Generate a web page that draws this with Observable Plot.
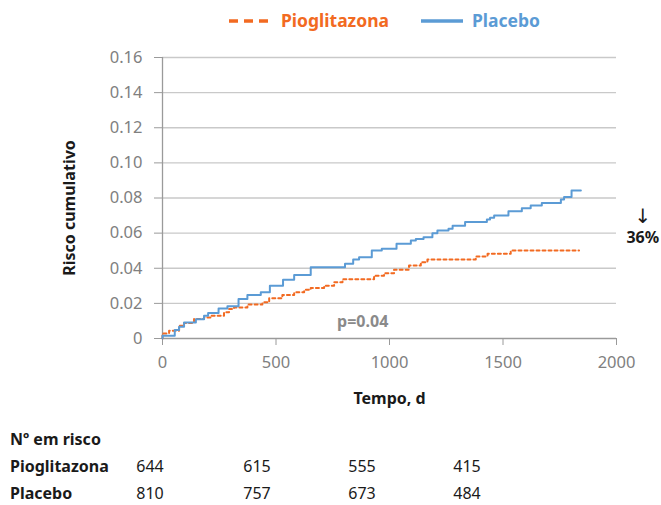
<!DOCTYPE html>
<html>
<head>
<meta charset="utf-8">
<script src="https://cdn.jsdelivr.net/npm/d3@7"></script>
<script src="https://cdn.jsdelivr.net/npm/@observablehq/plot@0.6"></script>
<style>
  body { margin: 0; background: #fff; font-family: "Noto Sans", sans-serif; }
  #wrap { position: relative; width: 661px; height: 505px; overflow: hidden; }
  #chart { position: absolute; left: 0; top: 0; }
  .leg { position: absolute; top: 7px; font-size: 17.5px; font-weight: bold; line-height: 26px; }
  .tbl { position: absolute; font-size: 16px; line-height: 20px; color: #1a1a1a; }
  .b { font-weight: bold; }
  .num { position: absolute; transform: translateX(-50%); }
</style>
</head>
<body>
<div id="wrap">
  <div id="chart"></div>
  <div id="legend"></div>
  <div id="table"></div>
</div>
<script>
// ---- data ----
const seriesNames = ["Pioglitazona", "Placebo"];
const seriesColors = ["#f26a21", "#5b9bd5"];

const placeboDays = [0, 0, 54, 73, 95, 147, 183, 201, 247, 286, 335, 374, 433, 473, 531, 580, 653, 804, 840, 866, 922, 966, 1031, 1094, 1116, 1150, 1189, 1211, 1260, 1278, 1333, 1429, 1443, 1461, 1524, 1583, 1622, 1671, 1755, 1769, 1802, 1843];
const placeboRisk = [0, 0.0015, 0.0048, 0.0067, 0.0091, 0.0109, 0.013, 0.0145, 0.0171, 0.0183, 0.0225, 0.0248, 0.0263, 0.0301, 0.0334, 0.0362, 0.0406, 0.0425, 0.045, 0.0463, 0.0501, 0.0511, 0.054, 0.0558, 0.0566, 0.0577, 0.06, 0.0615, 0.0625, 0.0642, 0.0663, 0.0677, 0.0688, 0.0701, 0.0724, 0.0741, 0.0758, 0.0771, 0.0791, 0.0806, 0.0842, 0.0842];

const pioDays = [0, 0, 29, 73, 95, 139, 183, 213, 271, 293, 315, 374, 440, 470, 528, 580, 624, 653, 712, 756, 793, 932, 976, 1020, 1086, 1138, 1167, 1380, 1432, 1534, 1835];
const pioRisk = [0, 0.0029, 0.0044, 0.0072, 0.0088, 0.0111, 0.012, 0.013, 0.0149, 0.0168, 0.0177, 0.0193, 0.0206, 0.0229, 0.0248, 0.0263, 0.0277, 0.0288, 0.03, 0.032, 0.0337, 0.0358, 0.0371, 0.0392, 0.0415, 0.0434, 0.045, 0.0467, 0.0482, 0.0501, 0.0501];

const yTicks = [0, 0.02, 0.04, 0.06, 0.08, 0.10, 0.12, 0.14, 0.16];
const xTicks = [0, 500, 1000, 1500, 2000];

const riskTitle = "Nº em risco";
const riskPio = [644, 615, 555, 415];
const riskPlacebo = [810, 757, 673, 484];

const pText = "p=0.04";
const reductionText = "36%";

// ---- build ----
const placebo = placeboDays.map((d, i) => ({day: d, risk: placeboRisk[i]}));
const pio = pioDays.map((d, i) => ({day: d, risk: pioRisk[i]}));

const font = "Noto Sans, sans-serif";
const chart = Plot.plot({
  width: 661,
  height: 415,
  marginLeft: 162,
  marginRight: 45,
  marginTop: 57,
  marginBottom: 77,
  style: {fontFamily: font, fontSize: "16px", background: "transparent"},
  x: {domain: [0, 2000], ticks: xTicks},
  y: {domain: [0, 0.16], ticks: yTicks},
  marks: [
    Plot.ruleY(yTicks.filter(d => d > 0), {stroke: "#c9c9c9", strokeWidth: 1.3}),
    Plot.ruleY([0], {stroke: "#9a9a9a", strokeWidth: 1.3}),
    Plot.ruleX([0], {stroke: "#9a9a9a", strokeWidth: 1.3}),
    Plot.axisY({ticks: yTicks, tickSize: 8, tickPadding: 12, stroke: "#9a9a9a", fill: "#808080",
      tickFormat: d => d === 0 ? "0" : d.toFixed(2), label: null, fontSize: 16.5}),
    Plot.axisX({ticks: xTicks, tickSize: 7, tickPadding: 11, stroke: "#9a9a9a", fill: "#808080",
      tickFormat: d => String(d), label: null, fontSize: 16.5}),
    Plot.line(pio, {x: "day", y: "risk", curve: "step-after", stroke: seriesColors[0], strokeWidth: 2, strokeDasharray: "3,3"}),
    Plot.line(placebo, {x: "day", y: "risk", curve: "step-after", stroke: seriesColors[1], strokeWidth: 2}),
    Plot.text(["Tempo, d"], {frameAnchor: "bottom", dy: 65, fontWeight: "bold", fontSize: 16, fill: "#1a1a1a"}),
    Plot.text(["Risco cumulativo"], {frameAnchor: "left", textAnchor: "middle", dx: -93, dy: 10, rotate: -90, fontWeight: "bold", fontSize: 16, fill: "#1a1a1a"}),
    Plot.text([pText], {x: [882], y: [0.0095], fontWeight: "bold", fontSize: 16, fill: "#8a8a8a"}),
    Plot.text(["↓"], {x: [2116], y: [0.0695], fontSize: 20, fontFamily: "DejaVu Sans", fill: "#1a1a1a"}),
    Plot.text([reductionText], {x: [2116], y: [0.0575], fontWeight: "bold", fontSize: 16, fill: "#1a1a1a"})
  ]
});
document.getElementById("chart").appendChild(chart);

// legend
const legend = document.getElementById("legend");
const legItems = [
  {name: seriesNames[0], color: seriesColors[0], dash: "9,6", lineLeft: 228, textLeft: 281},
  {name: seriesNames[1], color: seriesColors[1], dash: null, lineLeft: 420, textLeft: 472}
];
legItems.forEach(it => {
  const sw = document.createElementNS("http://www.w3.org/2000/svg", "svg");
  sw.setAttribute("width", 44); sw.setAttribute("height", 26);
  sw.style.position = "absolute"; sw.style.left = it.lineLeft + "px"; sw.style.top = "7px";
  const ln = document.createElementNS("http://www.w3.org/2000/svg", "line");
  ln.setAttribute("x1", 1); ln.setAttribute("x2", 43); ln.setAttribute("y1", 14); ln.setAttribute("y2", 14);
  ln.setAttribute("stroke", it.color); ln.setAttribute("stroke-width", 3.5);
  if (it.dash) ln.setAttribute("stroke-dasharray", it.dash);
  sw.appendChild(ln);
  legend.appendChild(sw);
  const t = document.createElement("div");
  t.className = "leg"; t.style.left = it.textLeft + "px"; t.style.color = it.color;
  t.textContent = it.name;
  legend.appendChild(t);
});

// risk table
const table = document.getElementById("table");
const numCenters = [150, 257, 362, 467];
function addText(txt, left, top, bold, centered) {
  const d = document.createElement("div");
  d.className = "tbl" + (bold ? " b" : "") + (centered ? " num" : "");
  d.style.left = left + "px"; d.style.top = top + "px";
  d.textContent = txt;
  table.appendChild(d);
}
addText(riskTitle, 10, 429, true, false);
addText(seriesNames[0], 10, 456, true, false);
addText(seriesNames[1], 10, 483, true, false);
riskPio.forEach((v, i) => addText(String(v), numCenters[i], 456, false, true));
riskPlacebo.forEach((v, i) => addText(String(v), numCenters[i], 483, false, true));
</script>
</body>
</html>
